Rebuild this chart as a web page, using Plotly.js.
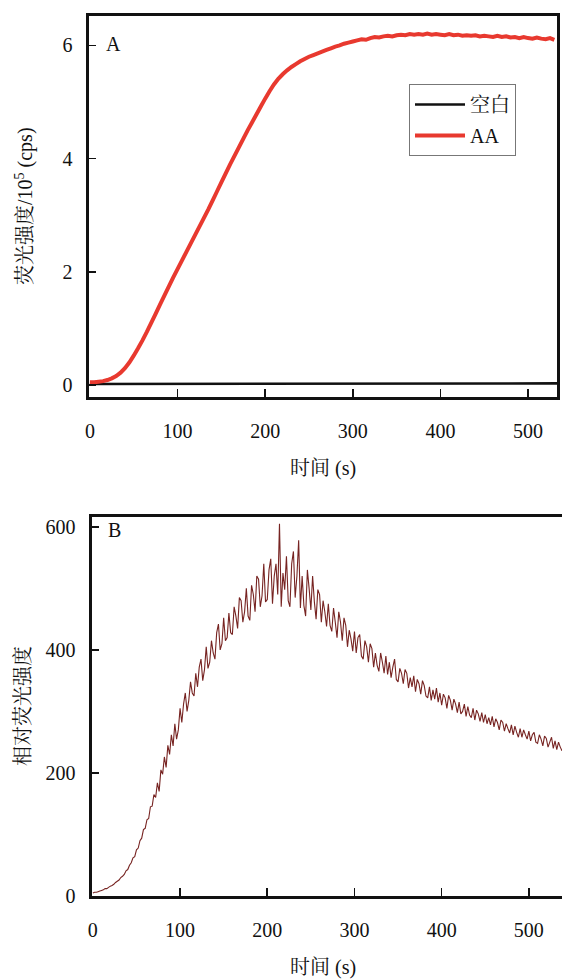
<!DOCTYPE html>
<html><head><meta charset="utf-8">
<script src="https://cdn.plot.ly/plotly-3.0.1.min.js"></script>
<style>html,body{margin:0;padding:0;background:#fff}#chart{width:562px;height:979px}</style>
</head><body><div id="chart"></div>
<script>
// Panel A
const timeA = [0,5,10,15,20,25,30,35,40,45,50,55,60,65,70,75,80,85,90,95,100,105,110,115,120,125,130,135,140,145,150,155,160,165,170,175,180,185,190,195,200,205,210,215,220,225,230,235,240,245,250,255,260,265,270,275,280,285,290,295,300,305,310,315,320,325,330,335,340,345,350,355,360,365,370,375,380,385,390,395,400,405,410,415,420,425,430,435,440,445,450,455,460,465,470,475,480,485,490,495,500,505,510,515,520,525,530];
const aaA = [0.05,0.05,0.06,0.07,0.09,0.12,0.16,0.22,0.30,0.40,0.52,0.65,0.79,0.94,1.10,1.26,1.42,1.58,1.74,1.90,2.05,2.20,2.35,2.50,2.65,2.80,2.95,3.10,3.26,3.42,3.58,3.74,3.90,4.05,4.20,4.35,4.50,4.64,4.78,4.92,5.06,5.19,5.31,5.41,5.49,5.56,5.62,5.67,5.72,5.76,5.80,5.83,5.86,5.89,5.92,5.95,5.98,6.00,6.03,6.05,6.07,6.09,6.11,6.10,6.13,6.15,6.14,6.16,6.17,6.16,6.18,6.19,6.18,6.20,6.19,6.20,6.19,6.21,6.19,6.20,6.19,6.18,6.20,6.18,6.19,6.17,6.18,6.17,6.18,6.16,6.17,6.16,6.15,6.17,6.15,6.16,6.14,6.15,6.13,6.15,6.13,6.12,6.14,6.12,6.11,6.13,6.10];
const timeBlank = [0,50,100,150,200,250,300,350,400,450,500,533];
const blankA = [0.02,0.02,0.02,0.02,0.02,0.025,0.025,0.025,0.03,0.03,0.03,0.03];
const legendNames = ["空白","AA"];
const ticksX = [0,100,200,300,400,500];
const ticksYA = [0,2,4,6];
// Panel B (time step 2 s)
const timeB = [];
for (let t = 0; t <= 540; t += 2) timeB.push(t);
const relB = [
5,6,6,7,8, 9,10,12,12,14, 16,17,19,22,24, 26,30,32,35,41, 43,50,54,62,64,
75,78,90,94,108, 110,124,126,145,146, 165,160,184,170,205, 198,226,209,245,230, 262,244,280,255,270,
305,282,312,330,300, 318,348,330,325,362, 340,372,385,350,368, 405,370,380,415,395, 385,428,442,400,410,
452,415,420,460,428, 425,470,455,435,485, 480,445,462,500,455, 448,505,490,462,520, 515,470,488,540,478,
482,530,548,475,520, 540,490,605,470,525, 498,552,480,470,540, 560,485,520,578,468, 520,472,455,530,500,
465,520,478,450,498, 490,445,480,462,438, 475,440,430,468,445, 420,462,445,415,452, 440,405,432,418,398,
430,395,420,425,390, 385,415,405,380,410, 402,372,395,375,365, 395,380,362,390,360, 380,355,372,385,352,
348,370,362,345,368, 362,338,355,340,358, 332,352,345,328,350, 342,325,322,340,318, 335,320,338,315,330,
310,328,322,305,326, 318,302,320,312,298, 315,296,300,312,292, 308,294,290,305,286, 302,296,284,298,282,
295,280,290,278,292, 275,288,282,270,286, 282,268,280,272,265, 278,262,276,266,258, 272,258,270,262,255,
268,252,262,266,250, 248,262,255,244,260, 256,242,250,258,240, 252,238,250,242,236, 244];
const ticksYB = [0,200,400,600];

const W = 562, H = 979;
const serif = '"Liberation Serif", "Times New Roman", "Noto Serif CJK SC", "Noto Sans CJK SC", serif';
const fnt = {family: serif, size: 20, color: "#111"};

const traces = [
  {x: timeBlank, y: blankA, type: "scatter", mode: "lines", name: legendNames[0],
   line: {color: "#111", width: 2.6}, xaxis: "x", yaxis: "y", legendgroup: "g1"},
  {x: timeA, y: aaA, type: "scatter", mode: "lines", name: legendNames[1],
   line: {color: "#e8392f", width: 4, simplify: false}, xaxis: "x", yaxis: "y", legendgroup: "g2"},
  {x: timeB, y: relB, type: "scatter", mode: "lines", showlegend: false,
   line: {color: "#772422", width: 1.1, simplify: false}, xaxis: "x2", yaxis: "y2"}
];

function axBase() {
  return {showgrid: false, zeroline: false, showline: true, linecolor: "#111", linewidth: 2.6,
    ticks: "inside", tickcolor: "#111", tickwidth: 1.6, tickfont: fnt, fixedrange: true};
}

const layout = {
  width: W, height: H, margin: {l: 0, r: 0, t: 0, b: 0},
  paper_bgcolor: "#fff", plot_bgcolor: "#fff", font: fnt,
  showlegend: true,
  legend: {x: 409 / W, y: 1 - 84 / H, xanchor: "left", yanchor: "top",
    bgcolor: "#fff", bordercolor: "#777", borderwidth: 1, font: fnt,
    traceorder: "grouped", tracegroupgap: 2, itemwidth: 50},
  xaxis: Object.assign(axBase(), {domain: [89 / W, 557 / W], range: [-1, 533],
    tickvals: ticksX, ticklen: 8, mirror: true, anchor: "y", ticklabelstandoff: 14}),
  yaxis: Object.assign(axBase(), {domain: [1 - 397 / H, 1 - 16 / H], range: [-0.21, 6.52],
    tickvals: ticksYA, ticklen: 7, mirror: true, anchor: "x", ticklabelstandoff: 10}),
  xaxis2: Object.assign(axBase(), {domain: [92 / W, 1], range: [-1, 538],
    tickvals: ticksX, ticklen: 8, mirror: true, anchor: "y2", ticklabelstandoff: 14}),
  yaxis2: Object.assign(axBase(), {domain: [1 - 896 / H, 1 - 517 / H], range: [0, 616],
    tickvals: ticksYB, ticklen: 7, mirror: false, anchor: "x2", ticklabelstandoff: 10}),
  annotations: [
    {text: "A", xref: "paper", yref: "paper", x: 104 / W, y: 1 - 44 / H, xanchor: "left", yanchor: "middle", showarrow: false, font: fnt},
    {text: "B", xref: "paper", yref: "paper", x: 106 / W, y: 1 - 530 / H, xanchor: "left", yanchor: "middle", showarrow: false, font: fnt},
    {text: "时间 (s)", xref: "paper", yref: "paper", x: 323 / W, y: 1 - 468 / H, xanchor: "center", yanchor: "middle", showarrow: false, font: fnt},
    {text: "时间 (s)", xref: "paper", yref: "paper", x: 323 / W, y: 1 - 967 / H, xanchor: "center", yanchor: "middle", showarrow: false, font: fnt},
    {text: "荧光强度/10<sup>5</sup> (cps)", xref: "paper", yref: "paper", x: 25 / W, y: 1 - 206 / H, xanchor: "center", yanchor: "middle", textangle: -90, showarrow: false, font: fnt},
    {text: "相对荧光强度", xref: "paper", yref: "paper", x: 22 / W, y: 1 - 706 / H, xanchor: "center", yanchor: "middle", textangle: -90, showarrow: false, font: fnt}
  ]
};

Plotly.newPlot("chart", traces, layout, {staticPlot: true, displayModeBar: false});
</script>
</body></html>
